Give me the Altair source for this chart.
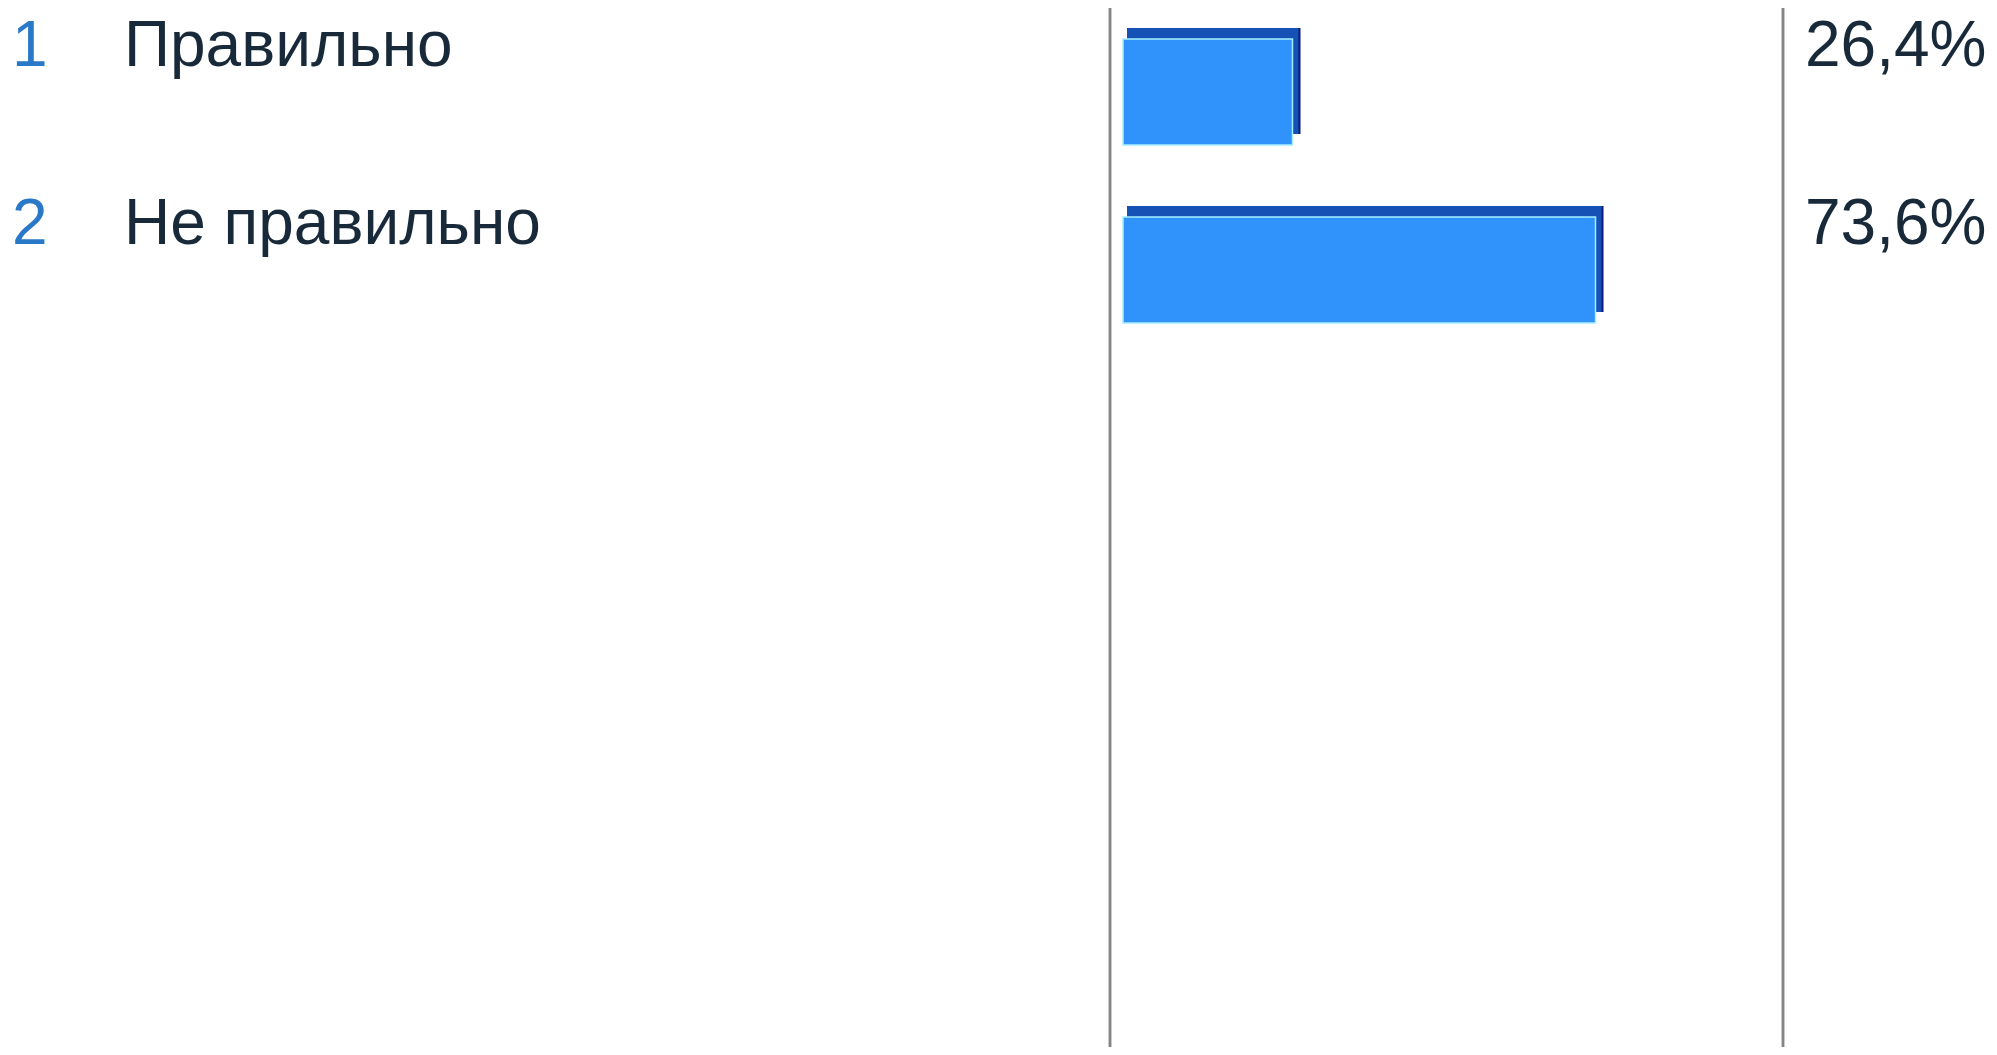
import altair as alt
import pandas as pd

# ---- data ----
numbers = ["1", "2"]
answers = ["Правильно", "Не правильно"]
shares = [26.4, 73.6]
share_labels = ["26,4%", "73,6%"]

df = pd.DataFrame({
    "num": numbers,
    "answer": answers,
    "share": shares,
    "label": share_labels,
})

FONT = "Liberation Sans"
FS = 64
DY = -26

yscale = alt.Scale(domain=numbers, range=[31, 315], paddingInner=0.4045, paddingOuter=0)
xscale = alt.Scale(domain=[0, 100], range=[1115, 1757])

Y = alt.Y("num:N", scale=yscale, axis=None)
X = alt.X("share:Q", scale=xscale, axis=None)

base = alt.Chart(df)

# 3D bar: side (navy), top face (darker blue), front face
side = base.mark_bar(color="#0b1a7c", xOffset=8, x2Offset=8, yOffset=-11).encode(
    x=X, x2=alt.datum(0), y=Y
)
top = base.mark_bar(color="#1651b6", xOffset=6, x2Offset=4, yOffset=-11).encode(
    x=X, x2=alt.datum(0), y=Y
)
front = base.mark_bar(color="#2f93fb", stroke="#a6eeff", strokeWidth=1.5).encode(
    x=X, x2=alt.datum(0), y=Y
)

nums = base.mark_text(align="left", baseline="alphabetic", font=FONT, fontSize=FS,
                      color="#2a78c8", dy=DY).encode(
    x=alt.value(4), y=Y, text="num:N"
)
names = base.mark_text(align="left", baseline="alphabetic", font=FONT, fontSize=FS,
                       color="#182a3a", dy=DY).encode(
    x=alt.value(116), y=Y, text="answer:N"
)
pcts = base.mark_text(align="left", baseline="alphabetic", font=FONT, fontSize=FS,
                      color="#182a3a", dy=DY).encode(
    x=alt.value(1797), y=Y, text="label:N"
)

left_rule = base.mark_rule(color="#858585", strokeWidth=2.5).encode(
    x=alt.value(1102), y=alt.value(-3), y2=alt.value(1039)
)
right_rule = base.mark_rule(color="#858585", strokeWidth=2.5).encode(
    x=alt.value(1775), y=alt.value(-3), y2=alt.value(1039)
)

chart = alt.layer(left_rule, right_rule, side, top, front, nums, names, pcts).properties(
    width=1981, height=1039, padding=0,
    autosize=alt.AutoSizeParams(type="none"),
    background="white",
).configure_view(stroke=None)

chart.save("out.html", embed_options={"renderer": "svg", "actions": False})
